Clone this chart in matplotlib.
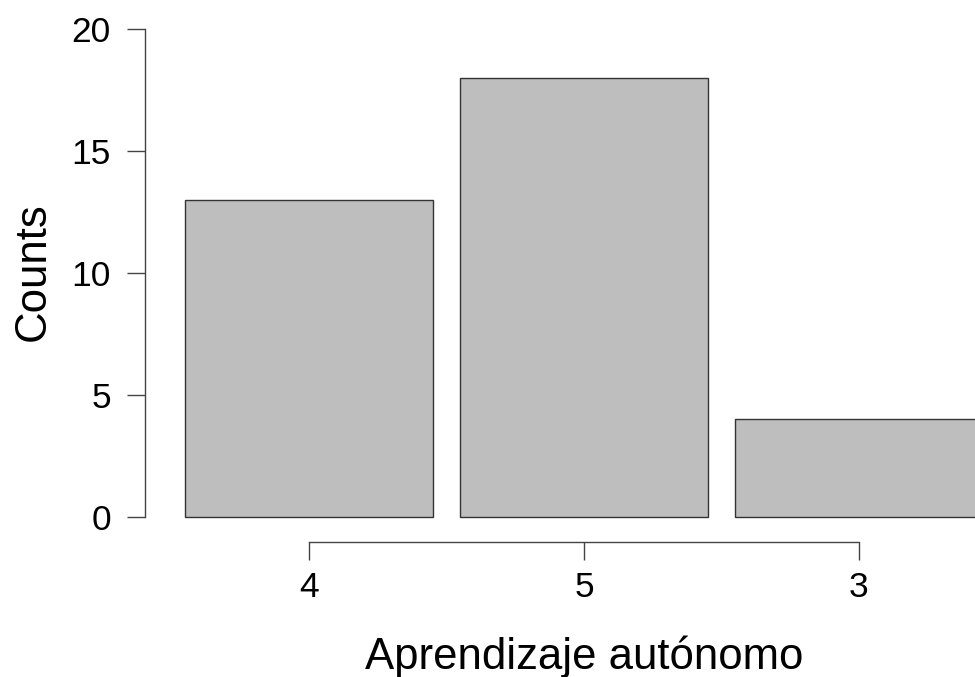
import matplotlib
matplotlib.use("Agg")
import matplotlib.pyplot as plt

categories = ["4", "5", "3"]
counts = [13, 18, 4]
y_ticks = [0, 5, 10, 15, 20]

plt.rcParams["font.family"] = ["Liberation Sans", "DejaVu Sans"]

W, H = 975, 677
fig = plt.figure(figsize=(W / 100, H / 100), dpi=100)

# axes box in pixels: left spine at x=145, bottom spine at y=542, top at y=29
left_px, right_px, top_px, bottom_px = 145, 975, 29, 542
ax = fig.add_axes([left_px / W, 1 - bottom_px / H,
                   (right_px - left_px) / W, (bottom_px - top_px) / H])

pos = list(range(len(categories)))
ax.bar(pos, counts, width=0.9, color="#bebebe", edgecolor="#333333", linewidth=1.0)

step = 275.0
ax.set_xlim(-(309 - left_px) / step, 2 + (right_px - 859) / step)
ppu = (517 - 29) / 20.0
ax.set_ylim(-(bottom_px - 517) / ppu, 20)

for s in ["top", "right"]:
    ax.spines[s].set_visible(False)
ax.spines["left"].set_bounds(0, 20)
ax.spines["bottom"].set_bounds(0, 2)
for s in ["left", "bottom"]:
    ax.spines[s].set_color("#444444")
    ax.spines[s].set_linewidth(1.0)

ax.set_yticks(y_ticks)
ax.set_xticks(pos)
ax.set_xticklabels(categories)
ax.tick_params(axis="both", length=13, width=1.0, color="#444444", labelsize=25.5)
ax.tick_params(axis="y", pad=11.5)
ax.tick_params(axis="x", pad=8)

fig.text(45 / W, 1 - 272 / H, "Counts", rotation=90, ha="center", va="baseline",
         rotation_mode="anchor", fontsize=31.5)
fig.text(584 / W, 1 - 669 / H, "Aprendizaje autónomo", ha="center", va="baseline", fontsize=31.5)

fig.savefig("out.png", dpi=100)
